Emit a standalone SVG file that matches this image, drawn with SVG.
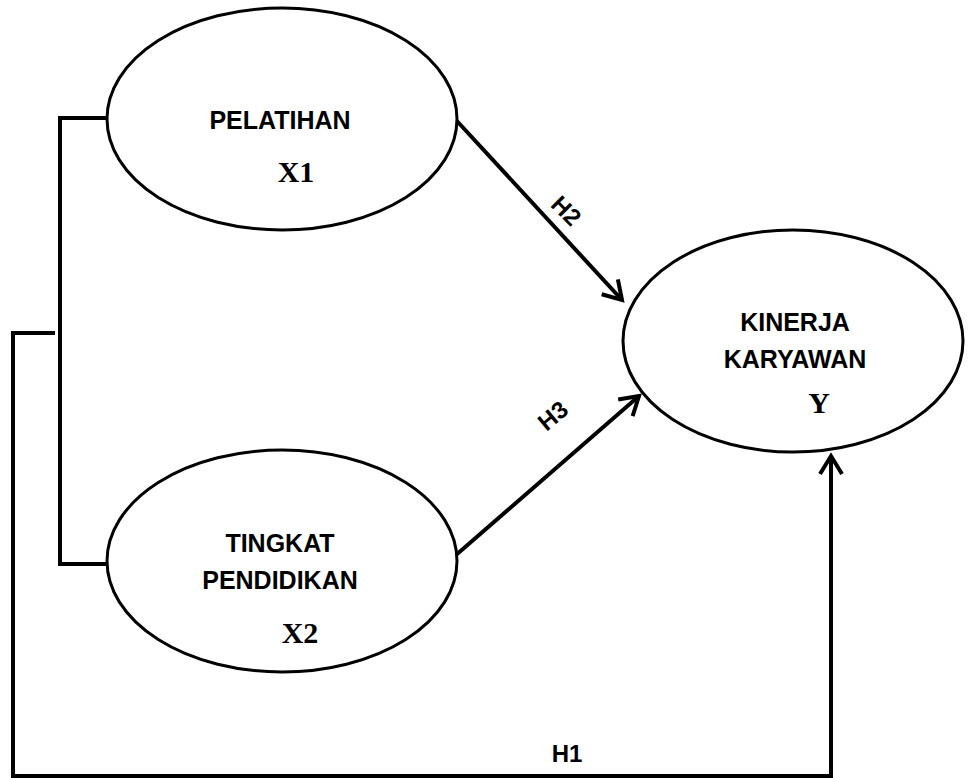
<svg xmlns="http://www.w3.org/2000/svg" width="968" height="778" viewBox="0 0 968 778">
  <defs>
    <style>
      .node ellipse { fill: #ffffff; stroke: #000000; stroke-width: 3; }
      .lbl { font-family: "Liberation Sans", Arial, sans-serif; font-weight: bold; font-size: 25px; fill: #000; text-anchor: middle; }
      .var { font-family: "Liberation Serif", "Times New Roman", serif; font-weight: bold; font-size: 30px; fill: #000; text-anchor: middle; }
      .conn { fill: none; stroke: #000; stroke-width: 4; stroke-linejoin: miter; }
      .hl { font-family: "Liberation Sans", Arial, sans-serif; font-weight: bold; font-size: 24px; fill: #000; text-anchor: middle; }
    </style>
    <marker id="arr" markerUnits="userSpaceOnUse" markerWidth="30" markerHeight="30" viewBox="-22 -15 26 30" refX="0" refY="0" orient="auto">
      <path d="M -18 -11 L 0 0 L -18 11" fill="none" stroke="#000" stroke-width="4"/>
    </marker>
  </defs>
  <rect width="968" height="778" fill="#ffffff"/>

  <g id="connectors">
    <path class="conn" d="M 107 118 H 60 V 564 H 107"/>
    <path class="conn" d="M 55 333 H 13 V 776 H 831 V 456" marker-end="url(#arr)"/>
    <path class="conn" d="M 456 120 L 622 300" marker-end="url(#arr)"/>
    <path class="conn" d="M 456 555 L 639 396" marker-end="url(#arr)"/>
    <text class="hl" transform="translate(566 211) rotate(45)" dy="8">H2</text>
    <text class="hl" transform="translate(553 416) rotate(-40)" dy="8">H3</text>
    <text class="hl" x="567" y="762">H1</text>
  </g>

  <g id="pelatihan" class="node">
    <ellipse cx="282" cy="119" rx="175" ry="111"/>
    <text class="lbl" x="280" y="129">PELATIHAN</text>
    <text class="var" x="296" y="182">X1</text>
  </g>

  <g id="tingkat-pendidikan" class="node">
    <ellipse cx="282" cy="561" rx="175" ry="111"/>
    <text class="lbl" x="280" y="552">TINGKAT</text>
    <text class="lbl" x="280" y="589">PENDIDIKAN</text>
    <text class="var" x="300" y="643">X2</text>
  </g>

  <g id="kinerja-karyawan" class="node">
    <ellipse cx="793" cy="341" rx="170" ry="111"/>
    <text class="lbl" x="795" y="331">KINERJA</text>
    <text class="lbl" x="795" y="368">KARYAWAN</text>
    <text class="var" x="819" y="413">Y</text>
  </g>
</svg>
